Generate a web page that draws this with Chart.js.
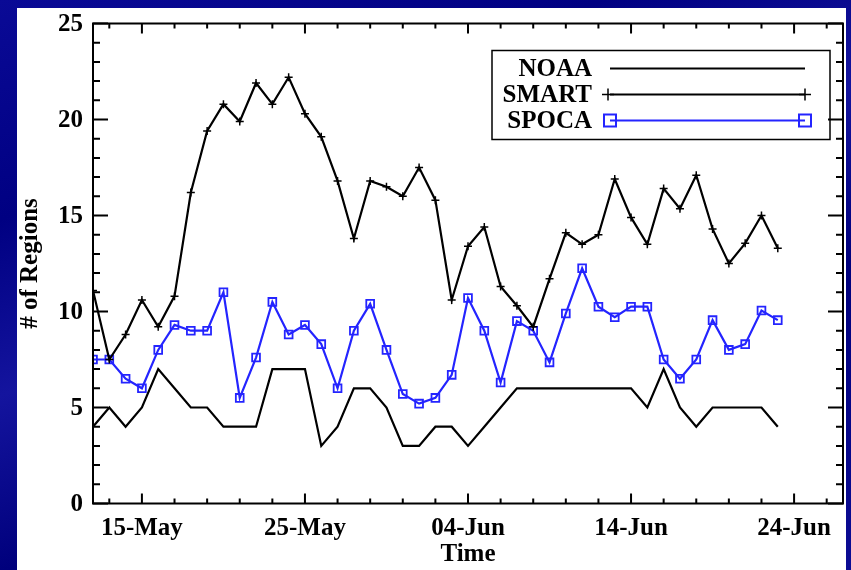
<!DOCTYPE html>
<html>
<head>
<meta charset="utf-8">
<title># of Regions</title>
<script src="https://cdn.jsdelivr.net/npm/chart.js@4.4.0/dist/chart.umd.min.js"></script>
<style>
    html, body { margin: 0; padding: 0; width: 851px; height: 570px; overflow: hidden; }
    body {
        position: relative;
        background: linear-gradient(160deg, #0a0a96 0%, #000082 25%, #14149e 45%, #00007c 65%, #0c0c94 100%);
    }
    #paper { position: absolute; left: 17px; top: 8px; width: 829px; height: 562px; background: #fff; }
    #regionsChart { position: absolute; left: 0; top: 0; }
</style>
</head>
<body>
<div id="paper"></div>
<canvas id="regionsChart" width="851" height="570"></canvas>
<script>
// Daily counts, 12-May .. 23-Jun
const dates = [
    '12-May', '13-May', '14-May', '15-May', '16-May', '17-May', '18-May', '19-May', '20-May', '21-May',
    '22-May', '23-May', '24-May', '25-May', '26-May', '27-May', '28-May', '29-May', '30-May', '31-May',
    '01-Jun', '02-Jun', '03-Jun', '04-Jun', '05-Jun', '06-Jun', '07-Jun', '08-Jun', '09-Jun', '10-Jun',
    '11-Jun', '12-Jun', '13-Jun', '14-Jun', '15-Jun', '16-Jun', '17-Jun', '18-Jun', '19-Jun', '20-Jun',
    '21-Jun', '22-Jun', '23-Jun'
];

const noaa = [
    4, 5, 4, 5, 7, 6, 5, 5, 4, 4,
    4, 7, 7, 7, 3, 4, 6, 6, 5, 3,
    3, 4, 4, 3, 4, 5, 6, 6, 6, 6,
    6, 6, 6, 6, 5, 7, 5, 4, 5, 5,
    5, 5, 4
];

const smart = [
    11.1, 7.5, 8.8, 10.6, 9.2, 10.8, 16.2, 19.4, 20.8, 19.9,
    21.9, 20.8, 22.2, 20.3, 19.1, 16.8, 13.8, 16.8, 16.5, 16.0,
    17.5, 15.8, 10.6, 13.4, 14.4, 11.3, 10.3, 9.2, 11.7, 14.1,
    13.5, 14.0, 16.9, 14.9, 13.5, 16.4, 15.35, 17.1, 14.3, 12.5,
    13.55, 15.0, 13.3
];

const spoca = [
    7.5, 7.5, 6.5, 6.0, 8.0, 9.3, 9.0, 9.0, 11.0, 5.5,
    7.6, 10.5, 8.8, 9.3, 8.3, 6.0, 9.0, 10.4, 8.0, 5.7,
    5.2, 5.5, 6.7, 10.7, 9.0, 6.3, 9.5, 9.0, 7.35, 9.9,
    12.25, 10.25, 9.7, 10.25, 10.25, 7.5, 6.5, 7.5, 9.55, 8.0,
    8.3, 10.05, 9.55
];

const seriesNames = ['NOAA', 'SMART', 'SPOCA'];

// x axis: day 0 = 12-May, axis runs to 27-Jun
const xMin = 0;
const xMax = 46;
const xTickDays = [3, 13, 23, 33, 43];
const xTickLabels = ['15-May', '25-May', '04-Jun', '14-Jun', '24-Jun'];
const xMinorStep = 2;

const yMin = 0;
const yMax = 25;
const yTickStep = 5;
const yMinorStep = 1;

const BLUE = '#2424ff';
const SERIF = '"Liberation Serif", "DejaVu Serif", serif';
const tickFont = { family: SERIF, size: 25, weight: 'bold', lineHeight: 1.08 };
const titleFont = { family: SERIF, size: 25, weight: 'bold' };

function toPoints(values) {
    return values.map((v, i) => ({ x: i, y: v }));
}

// IDL style box with inward major/minor ticks on all four sides
const frameTicks = {
    id: 'frameTicks',
    afterDraw(chart) {
        const { ctx, chartArea: a, scales: { x, y } } = chart;
        ctx.save();
        ctx.strokeStyle = '#000';
        ctx.lineWidth = 2;
        ctx.strokeRect(a.left, a.top, a.right - a.left, a.bottom - a.top);
        ctx.beginPath();
        for (let v = yMin; v <= yMax; v += yMinorStep) {
            const py = y.getPixelForValue(v);
            const len = v % yTickStep === 0 ? 15 : 7;
            ctx.moveTo(a.left, py);
            ctx.lineTo(a.left + len, py);
            ctx.moveTo(a.right, py);
            ctx.lineTo(a.right - len, py);
        }
        for (let d = 1; d < xMax; d += xMinorStep) {
            const px = x.getPixelForValue(d);
            const len = xTickDays.includes(d) ? 10 : 5;
            ctx.moveTo(px, a.bottom);
            ctx.lineTo(px, a.bottom - len);
            ctx.moveTo(px, a.top);
            ctx.lineTo(px, a.top + len);
        }
        ctx.stroke();
        ctx.restore();
    }
};

// legend: label on the left, line sample with end markers on the right
const legendBox = {
    id: 'legendBox',
    afterDatasetsDraw(chart) {
        const { ctx, chartArea: a } = chart;
        const left = a.right - 351;
        const top = a.top + 27;
        ctx.save();
        ctx.fillStyle = '#fff';
        ctx.fillRect(left, top, 338, 89);
        ctx.strokeStyle = '#000';
        ctx.lineWidth = 1.5;
        ctx.strokeRect(left, top, 338, 89);
        ctx.font = 'bold 25px "Liberation Serif"';
        ctx.textAlign = 'right';
        ctx.textBaseline = 'middle';
        chart.data.datasets.forEach((ds, i) => {
            const yy = top + 18 + i * 26;
            const x0 = left + 118;
            const x1 = left + 313;
            ctx.fillStyle = '#000';
            ctx.fillText(ds.label, left + 100, yy + 1);
            ctx.strokeStyle = ds.borderColor;
            ctx.lineWidth = ds.borderWidth;
            ctx.beginPath();
            ctx.moveTo(x0, yy);
            ctx.lineTo(x1, yy);
            ctx.stroke();
            if (ds.pointStyle === 'cross') {
                ctx.lineWidth = 1.5;
                ctx.beginPath();
                [x0 - 2, x1].forEach(px => {
                    ctx.moveTo(px - 6, yy); ctx.lineTo(px + 6, yy);
                    ctx.moveTo(px, yy - 6); ctx.lineTo(px, yy + 6);
                });
                ctx.stroke();
            } else if (ds.pointStyle === 'rect') {
                ctx.lineWidth = 2;
                [x0, x1].forEach(px => ctx.strokeRect(px - 6, yy - 6, 12, 12));
            }
        });
        ctx.restore();
    }
};

new Chart(document.getElementById('regionsChart'), {
    type: 'line',
    data: {
        datasets: [
            {
                label: seriesNames[0],
                data: toPoints(noaa),
                borderColor: '#000',
                borderWidth: 2.2,
                pointRadius: 0,
                tension: 0
            },
            {
                label: seriesNames[1],
                data: toPoints(smart),
                borderColor: '#000',
                borderWidth: 2.2,
                pointStyle: 'cross',
                pointRadius: 4,
                pointBorderWidth: 1.5,
                pointBorderColor: '#000',
                tension: 0
            },
            {
                label: seriesNames[2],
                data: toPoints(spoca),
                borderColor: BLUE,
                borderWidth: 2.2,
                pointStyle: 'rect',
                pointRadius: 5.5,
                pointBorderWidth: 1.8,
                pointBorderColor: BLUE,
                pointBackgroundColor: 'rgba(255,255,255,0)',
                tension: 0
            }
        ]
    },
    options: {
        responsive: false,
        animation: false,
        events: [],
        layout: { padding: { top: 13.5, right: 8, left: 0, bottom: 0 } },
        plugins: {
            legend: { display: false },
            tooltip: { enabled: false }
        },
        scales: {
            x: {
                type: 'linear',
                min: xMin,
                max: xMax,
                grid: { display: false, drawTicks: false },
                border: { display: false },
                afterBuildTicks: (scale) => {
                    scale.ticks = xTickDays.map(v => ({ value: v }));
                },
                afterFit: (scale) => { scale.height = 66.5; },
                ticks: {
                    autoSkip: false,
                    maxRotation: 0,
                    padding: 12,
                    color: '#000',
                    font: tickFont,
                    callback: (v) => xTickLabels[xTickDays.indexOf(v)]
                },
                title: {
                    display: true,
                    text: 'Time',
                    color: '#000',
                    font: titleFont,
                    padding: { top: 0, bottom: 0 }
                }
            },
            y: {
                min: yMin,
                max: yMax,
                grid: { display: false, drawTicks: false },
                border: { display: false },
                afterFit: (scale) => { scale.width = 93; },
                ticks: {
                    stepSize: yTickStep,
                    padding: 10,
                    labelOffset: 1.5,
                    color: '#000',
                    font: tickFont
                },
                title: {
                    display: true,
                    text: '# of Regions',
                    color: '#000',
                    font: titleFont,
                    padding: { top: 16, bottom: 0 }
                }
            }
        }
    },
    plugins: [frameTicks, legendBox]
});
</script>
</body>
</html>
